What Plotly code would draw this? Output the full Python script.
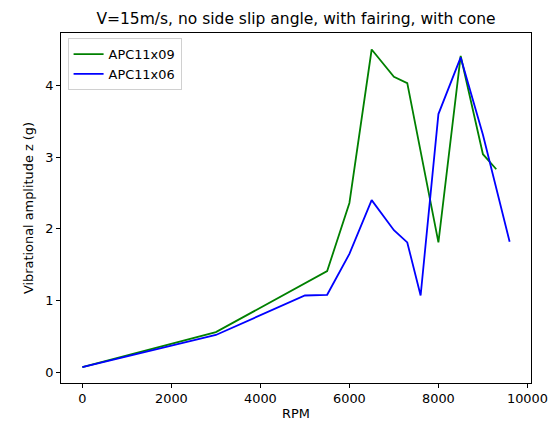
import plotly.graph_objects as go

rpm_09 = [0, 3000, 5500, 6000, 6500, 7000, 7300, 8000, 8500, 9000, 9300]
amp_09 = [0.07, 0.56, 1.41, 2.36, 4.50, 4.12, 4.03, 1.81, 4.41, 3.04, 2.83]

rpm_06 = [0, 3000, 5000, 5500, 6000, 6500, 7000, 7300, 7600, 8000, 8500, 9000, 9600]
amp_06 = [0.07, 0.52, 1.07, 1.08, 1.65, 2.40, 1.98, 1.81, 1.07, 3.60, 4.39, 3.31, 1.82]

title_text = "V=15m/s, no side slip angle, with fairing, with cone"
x_title = "RPM"
y_title = "Vibrational amplitude z (g)"
x_ticks = [0, 2000, 4000, 6000, 8000, 10000]
x_labels = ["0", "2000", "4000", "6000", "8000", "10000"]
y_ticks = [0, 1, 2, 3, 4]
y_labels = ["0", "1", "2", "3", "4"]

font = "DejaVu Sans"
fs = 12.9

fig = go.Figure()
fig.add_trace(go.Scatter(x=rpm_09, y=amp_09, mode="lines", name="APC11x09",
                         line=dict(color="green", width=1.8)))
fig.add_trace(go.Scatter(x=rpm_06, y=amp_06, mode="lines", name="APC11x06",
                         line=dict(color="blue", width=1.8)))

axis_common = dict(showgrid=False, zeroline=False, showline=True, linecolor="black",
                   linewidth=1, mirror=True, ticks="outside", ticklen=4, tickwidth=1,
                   tickcolor="black", automargin=False,
                   tickfont=dict(family=font, size=fs, color="black"))

fig.update_layout(
    width=553, height=421,
    margin=dict(l=61, r=22, t=33, b=38),
    paper_bgcolor="white", plot_bgcolor="white",
    title=dict(text=title_text, x=(61 + 531) / 2 / 553, xanchor="center",
               y=1 - 19 / 421, yanchor="middle",
               font=dict(family=font, size=15.5, color="black")),
    xaxis=dict(range=[-480, 10080], tickvals=x_ticks, ticktext=x_labels,
               title=dict(text=x_title, font=dict(family=font, size=fs, color="black"), standoff=4),
               **axis_common),
    yaxis=dict(range=[-0.15, 4.73], tickvals=y_ticks, ticktext=y_labels,
               title=dict(text=y_title, font=dict(family=font, size=fs, color="black"), standoff=8),
               **axis_common),
    legend=dict(x=0.014, y=0.985, xanchor="left", yanchor="top",
                bgcolor="rgba(255,255,255,0.8)", bordercolor="#d0d0d0", borderwidth=1,
                font=dict(family=font, size=fs, color="black"),
                tracegroupgap=0, itemwidth=30),
    showlegend=True,
)

fig.write_html("out.html")
